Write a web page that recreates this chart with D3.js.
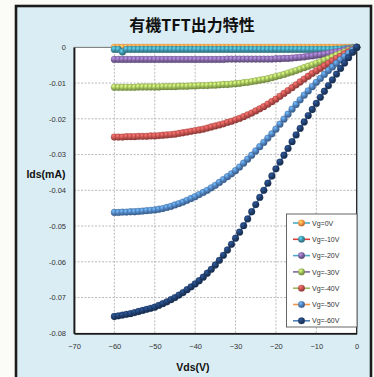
<!DOCTYPE html>
<html><head><meta charset="utf-8">
<script src="https://cdn.jsdelivr.net/npm/d3@7"></script>
<style>
html,body{margin:0;padding:0;background:#fbfbf7;}
svg{display:block;}
</style></head>
<body>
<svg id="c" width="374" height="377"></svg>
<script>
const title = "有機TFT出力特性";
const xTitle = "Vds(V)";
const yTitle = "Ids(mA)";
const xTicks = [-70,-60,-50,-40,-30,-20,-10,0];
const xTickLabels = ["−70","−60","−50","−40","−30","−20","−10","0"];
const yTicks = [0,-0.01,-0.02,-0.03,-0.04,-0.05,-0.06,-0.07,-0.08];
const yTickLabels = ["0","-0.01","-0.02","-0.03","-0.04","-0.05","-0.06","-0.07","-0.08"];
const seriesNames = ["Vg=0V","Vg=-10V","Vg=-20V","Vg=-30V","Vg=-40V","Vg=-50V","Vg=-60V"];
const vds = [-60,-59,-58,-57,-56,-55,-54,-53,-52,-51,-50,-49,-48,-47,-46,-45,-44,-43,-42,-41,-40,-39,-38,-37,-36,-35,-34,-33,-32,-31,-30,-29,-28,-27,-26,-25,-24,-23,-22,-21,-20,-19,-18,-17,-16,-15,-14,-13,-12,-11,-10,-9,-8,-7,-6,-5,-4,-3,-2,-1,0];
const ids_vg0 = [0,0,0,0,0,0,0,0,0,0,0,0,0,0,0,0,0,0,0,0,0,0,0,0,0,0,0,0,0,0,0,0,0,0,0,0,0,0,0,0,0,0,0,0,0,0,0,0,0,0,0,0,0,0,0,0,0,0,0,0,0];
const ids_vg10 = [-.0006,-.0006,-.0013,-.0006,-.0006,-.0006,-.0006,-.0006,-.0006,-.0006,-.0006,-.0006,-.0006,-.0006,-.0006,-.0006,-.0006,-.0006,-.0006,-.0006,-.0006,-.0006,-.0006,-.0006,-.0006,-.0006,-.0006,-.0006,-.0006,-.0006,-.0006,-.0006,-.0006,-.0006,-.0006,-.0006,-.0006,-.0006,-.0006,-.0006,-.0006,-.0006,-.0006,-.0006,-.0006,-.0006,-.0006,-.0006,-.0006,-.0006,-.0006,-.0006,-.0006,-.0006,-.0006,-.0005,-.0005,-.0004,-.0003,-.0001,0];
const ids_vg20 = [-.0034,-.0034,-.0034,-.0034,-.0034,-.0034,-.0034,-.0034,-.0034,-.0034,-.0034,-.0034,-.0034,-.0034,-.0034,-.0034,-.0034,-.0034,-.0034,-.0034,-.0034,-.0034,-.0034,-.0034,-.0034,-.0034,-.0034,-.0034,-.0033,-.0033,-.0033,-.0033,-.0033,-.0033,-.0033,-.0033,-.0033,-.0033,-.0033,-.0033,-.0032,-.0032,-.0031,-.0031,-.0030,-.0029,-.0028,-.0027,-.0025,-.0024,-.0022,-.0021,-.0019,-.0017,-.0015,-.0013,-.0011,-.0008,-.0005,-.0003,0];
const ids_vg30 = [-.0112,-.0112,-.0112,-.0112,-.0112,-.0112,-.0111,-.0111,-.0111,-.0111,-.0111,-.0111,-.0110,-.0110,-.0110,-.0110,-.0109,-.0109,-.0109,-.0108,-.0108,-.0107,-.0107,-.0107,-.0106,-.0106,-.0105,-.0104,-.0104,-.0103,-.0102,-.0101,-.0099,-.0098,-.0096,-.0094,-.0092,-.0090,-.0088,-.0085,-.0082,-.0079,-.0076,-.0072,-.0069,-.0065,-.0061,-.0057,-.0053,-.0049,-.0045,-.0041,-.0036,-.0032,-.0027,-.0022,-.0018,-.0013,-.0009,-.0004,0];
const ids_vg40 = [-.0251,-.0251,-.0251,-.0250,-.0250,-.0250,-.0249,-.0249,-.0249,-.0248,-.0248,-.0247,-.0246,-.0245,-.0244,-.0243,-.0241,-.0239,-.0237,-.0235,-.0233,-.0231,-.0229,-.0226,-.0223,-.0220,-.0217,-.0214,-.0210,-.0207,-.0203,-.0199,-.0194,-.0189,-.0184,-.0178,-.0172,-.0166,-.0159,-.0152,-.0145,-.0137,-.0129,-.0121,-.0113,-.0105,-.0097,-.0089,-.0081,-.0073,-.0066,-.0059,-.0052,-.0045,-.0038,-.0031,-.0025,-.0018,-.0012,-.0006,0];
const ids_vg50 = [-.0462,-.0462,-.0461,-.0461,-.0460,-.0460,-.0459,-.0458,-.0457,-.0456,-.0455,-.0453,-.0451,-.0448,-.0445,-.0441,-.0437,-.0433,-.0428,-.0423,-.0418,-.0412,-.0406,-.0400,-.0393,-.0386,-.0378,-.0370,-.0362,-.0354,-.0345,-.0335,-.0324,-.0313,-.0302,-.0290,-.0278,-.0266,-.0254,-.0242,-.0229,-.0215,-.0201,-.0187,-.0173,-.0160,-.0147,-.0134,-.0122,-.0110,-.0098,-.0087,-.0076,-.0065,-.0055,-.0045,-.0035,-.0026,-.0017,-.0008,0];
const ids_vg60 = [-.0753,-.0751,-.0749,-.0747,-.0745,-.0742,-.0739,-.0736,-.0733,-.0730,-.0727,-.0722,-.0717,-.0712,-.0706,-.0700,-.0693,-.0686,-.0678,-.0670,-.0662,-.0653,-.0643,-.0632,-.0621,-.0609,-.0596,-.0582,-.0567,-.0551,-.0534,-.0517,-.0499,-.0480,-.0460,-.0440,-.0420,-.0400,-.0380,-.0360,-.0340,-.0321,-.0302,-.0283,-.0264,-.0245,-.0227,-.0209,-.0191,-.0174,-.0157,-.0140,-.0123,-.0107,-.0091,-.0075,-.0059,-.0044,-.0029,-.0014,0];
const lineColors = ["#4bacc6","#e0403c","#4bacc6","#8064a2","#9bbb59","#f79646","#4f81bd"];
const markerColors = ["#f79646","#3f93a8","#8064a2","#9bbb59","#c0504d","#4f81bd","#1f3d6b"];

const allSeries = [ids_vg0,ids_vg10,ids_vg20,ids_vg30,ids_vg40,ids_vg50,ids_vg60];

const svg = d3.select("#c");
const plot = {l:74, r:356.7, t:47.3, b:333.3};

const defs = svg.append("defs");
markerColors.forEach((c,i)=>{
  const g = defs.append("radialGradient").attr("id","mg"+i)
    .attr("cx","35%").attr("cy","30%").attr("r","70%");
  g.append("stop").attr("offset","0%").attr("stop-color", d3.color(c).brighter(1.1));
  g.append("stop").attr("offset","55%").attr("stop-color", c);
  g.append("stop").attr("offset","100%").attr("stop-color", d3.color(c).darker(1.0));
});

svg.append("rect").attr("x",16).attr("y",6).attr("width",355).attr("height",380)
  .attr("fill","#dbedf4").attr("stroke","#1b1b1b").attr("stroke-width",2.6);

const x = d3.scaleLinear().domain([-70,0]).range([plot.l, plot.r]);
const y = d3.scaleLinear().domain([-0.08,0]).range([plot.b, plot.t]);

svg.append("rect").attr("x",plot.l).attr("y",plot.t).attr("width",plot.r-plot.l).attr("height",plot.b-plot.t)
  .attr("fill","#ffffff");

const grid = svg.append("g");
grid.selectAll("line.gx").data(xTicks.filter(v=>v>-70 && v<0)).join("line")
  .attr("x1",d=>x(d)).attr("x2",d=>x(d)).attr("y1",plot.t).attr("y2",plot.b)
  .attr("stroke","#a8a8a8").attr("stroke-width",0.8).attr("stroke-dasharray","2,1.5");
grid.selectAll("line.gy").data(yTicks.filter(v=>v<0 && v>-0.08)).join("line")
  .attr("x1",plot.l).attr("x2",plot.r).attr("y1",d=>y(d)).attr("y2",d=>y(d))
  .attr("stroke","#a8a8a8").attr("stroke-width",0.8).attr("stroke-dasharray","2,1.5");

svg.append("rect").attr("x",plot.l).attr("y",plot.t).attr("width",plot.r-plot.l).attr("height",plot.b-plot.t)
  .attr("fill","none").attr("stroke","#555").attr("stroke-width",0.8);
svg.append("line").attr("x1",plot.r).attr("x2",plot.r).attr("y1",plot.t).attr("y2",plot.b)
  .attr("stroke","#222").attr("stroke-width",1.2);

const yAxis = d3.axisLeft(y).tickValues(yTicks).tickSize(0).tickPadding(8)
  .tickFormat((d,i)=>yTickLabels[i]);
const gy = svg.append("g").attr("transform",`translate(${plot.l},0)`).call(yAxis);
gy.select(".domain").attr("stroke","#1a1a1a").attr("stroke-width",1.8);
gy.selectAll("text").attr("font-family","Liberation Sans, Arial, sans-serif").attr("font-size","7.5px").attr("fill","#333");

const xAxis = d3.axisBottom(x).tickValues(xTicks).tickSize(0).tickPadding(10)
  .tickFormat((d,i)=>xTickLabels[i]);
const gx = svg.append("g").attr("transform",`translate(0,${plot.b})`).call(xAxis);
gx.select(".domain").attr("stroke","#1a1a1a").attr("stroke-width",1.8);
gx.selectAll("text").attr("font-family","Liberation Sans, Arial, sans-serif").attr("font-size","7.5px").attr("fill","#333");

const lineGen = d3.line().x((d,i)=>x(vds[i])).y(d=>y(d));
allSeries.forEach((s,si)=>{
  const g = svg.append("g");
  g.append("path").datum(s).attr("d",lineGen).attr("fill","none")
    .attr("stroke",lineColors[si]).attr("stroke-width",1.6);
  g.selectAll("circle").data(s).join("circle")
    .attr("cx",(d,i)=>x(vds[i])).attr("cy",d=>y(d)).attr("r",3.4)
    .attr("fill",`url(#mg${si})`)
    .attr("stroke", d3.color(markerColors[si]).darker(0.6)).attr("stroke-width",0.3);
});

svg.append("text").attr("x",192).attr("y",31).attr("text-anchor","middle")
  .attr("font-family","Noto Sans CJK JP, sans-serif").attr("font-weight","bold").attr("font-size","16px")
  .attr("fill","#111").text(title);

svg.append("text").attr("x",46).attr("y",178).attr("text-anchor","middle")
  .attr("font-family","Liberation Sans, Arial, sans-serif").attr("font-weight","bold").attr("font-size","10.5px")
  .attr("fill","#111").text(yTitle);
svg.append("text").attr("x",193).attr("y",371).attr("text-anchor","middle")
  .attr("font-family","Liberation Sans, Arial, sans-serif").attr("font-weight","bold").attr("font-size","10.5px")
  .attr("fill","#111").text(xTitle);

const lg = svg.append("g");
lg.append("rect").attr("x",286.5).attr("y",214).attr("width",70.5).attr("height",113)
  .attr("fill","#ffffff").attr("stroke","#555").attr("stroke-width",0.9);
seriesNames.forEach((n,i)=>{
  const yy = 223 + i*16.3;
  lg.append("line").attr("x1",293).attr("x2",310).attr("y1",yy).attr("y2",yy)
    .attr("stroke",lineColors[i]).attr("stroke-width",1.6);
  lg.append("circle").attr("cx",301.5).attr("cy",yy).attr("r",3.3)
    .attr("fill",`url(#mg${i})`).attr("stroke",d3.color(markerColors[i]).darker(0.6)).attr("stroke-width",0.3);
  lg.append("text").attr("x",312).attr("y",yy+2.6)
    .attr("font-family","Liberation Sans, Arial, sans-serif").attr("font-size","7px").attr("fill","#333").text(n);
});
</script>
</body></html>
